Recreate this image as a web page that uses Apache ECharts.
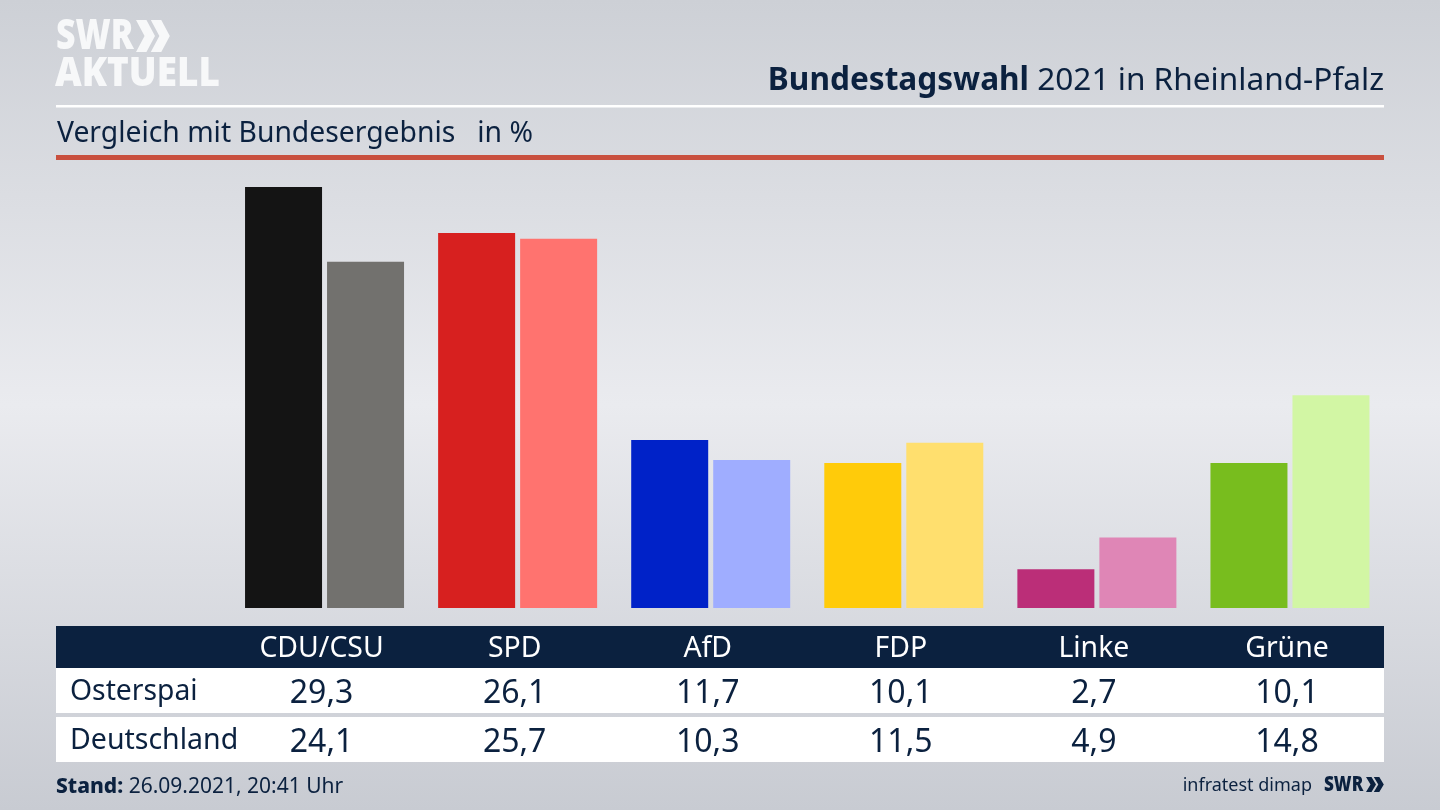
<!DOCTYPE html>
<html>
<head>
<meta charset="utf-8">
<style>
html, body { margin: 0; padding: 0; background: #dfe1e6; }
#main { width: 1440px; height: 810px; }
</style>
<script src="https://cdn.jsdelivr.net/npm/echarts@6/dist/echarts.min.js"></script>
</head>
<body>
<div id="main"></div>
<script>
const categories = ['CDU/CSU', 'SPD', 'AfD', 'FDP', 'Linke', 'Grüne'];
const osterspai = [29.3, 26.1, 11.7, 10.1, 2.7, 10.1];
const deutschland = [24.1, 25.7, 10.3, 11.5, 4.9, 14.8];
const rowNames = ['Osterspai', 'Deutschland'];
const colorsStrong = ['#141414', '#d7201f', '#0022c8', '#ffcb0a', '#bb2e78', '#78bd1e'];
const colorsLight = ['#72716e', '#ff736f', '#9fadff', '#ffdf6e', '#df86b6', '#d2f6a4'];

const NAVY = '#0b213f';
const FONT = '"Noto Sans", sans-serif';

const chart = echarts.init(document.getElementById('main'));

function barSeries(name, values, colors) {
    return {
        name: name,
        type: 'bar',
        silent: true,
        barWidth: 77,
        barGap: '6.5%',
        data: values.map((v, i) => ({ value: v, itemStyle: { color: colors[i] } }))
    };
}

chart.setOption({
    animation: false,
    backgroundColor: {
        type: 'linear', x: 0, y: 0, x2: 0, y2: 1,
        colorStops: [
            { offset: 0, color: '#cdd0d6' },
            { offset: 0.5, color: '#eaebef' },
            { offset: 1, color: '#c8cbd2' }
        ]
    },
    grid: { left: 228, right: 53.5, top: 177, bottom: 202 },
    xAxis: {
        type: 'category',
        data: categories,
        axisLine: { show: false },
        axisTick: { show: false },
        axisLabel: { color: '#ffffff', fontFamily: FONT, fontSize: 28.4, margin: 27, padding: [0, 6, 0, 0] }
    },
    yAxis: { type: 'value', min: 0, max: 30, show: false },
    series: [
        barSeries(rowNames[0], osterspai, colorsStrong),
        barSeries(rowNames[1], deutschland, colorsLight)
    ]
});

function fmt(v) {
    return v.toFixed(1).replace('.', ',');
}

function rect(x, y, width, height, fill, z) {
    return { type: 'rect', shape: { x, y, width, height }, style: { fill }, z: z || 0, silent: true };
}

function text(x, y, str, size, opts, scaleX, scaleY) {
    return {
        type: 'text', x, y, z: 5, silent: true,
        scaleX: scaleX || 1, scaleY: scaleY || 1,
        style: Object.assign({
            text: str, fill: NAVY, fontFamily: FONT, fontSize: size,
            textAlign: 'left', textVerticalAlign: 'middle'
        }, opts || {})
    };
}

function chevrons(x, y, h, w, fill) {
    const t = w * 0.55;
    const one = dx => ({
        type: 'polygon', z: 5, silent: true,
        shape: { points: [[x + dx, y], [x + dx + t, y], [x + dx + w, y + h / 2], [x + dx + t, y + h], [x + dx, y + h], [x + dx + w - t, y + h / 2]] },
        style: { fill }
    });
    return [one(0), one(w * 0.78)];
}

const graphics = [
    // kopf
    text(56, 37, 'SWR', 36, { fill: '#f7f8f9', fontWeight: 900 }, 0.94, 1.2),
    ...chevrons(136, 20, 32, 19, '#f7f8f9'),
    text(55, 75, 'AKTUELL', 38, { fill: '#f7f8f9', fontWeight: 900 }, 0.97, 1.05),
    rect(56, 105, 1328, 2.5, '#ffffff'),
    rect(56, 155, 1328, 5, '#c9503f'),
    text(1384, 81, '{b|Bundestagswahl} 2021 in Rheinland-Pfalz', 31.6, {
        textAlign: 'right',
        rich: {
            b: { fontFamily: FONT, fontSize: 31.6, fontWeight: 700, fill: NAVY }
        }
    }),
    text(57, 134, 'Vergleich mit Bundesergebnis   in %', 28.3),
    // tabelle
    rect(56, 626, 1328, 42, NAVY),
    rect(56, 668, 1328, 45, '#ffffff'),
    rect(56, 717, 1328, 45, '#ffffff'),
    text(70, 692, rowNames[0], 28.3),
    text(70, 741, rowNames[1], 28.5),
    // fuss
    text(56, 787, '{b|Stand:} 26.09.2021, 20:41 Uhr', 21, {
        rich: { b: { fontFamily: FONT, fontSize: 21, fontWeight: 800, fill: NAVY } }
    }),
    text(1312, 786, 'infratest dimap', 18, { textAlign: 'right' }),
    text(1324, 785, 'SWR', 19, { fontWeight: 900 }, 0.9, 1.1),
    ...chevrons(1366, 777, 15, 10, NAVY)
];

categories.forEach((c, i) => {
    const x = chart.convertToPixel({ xAxisIndex: 0 }, i) - 3;
    graphics.push(text(x, 694, fmt(osterspai[i]), 32, { textAlign: 'center' }));
    graphics.push(text(x, 743, fmt(deutschland[i]), 32, { textAlign: 'center' }));
});

chart.setOption({ graphic: { elements: graphics } });
</script>
</body>
</html>
